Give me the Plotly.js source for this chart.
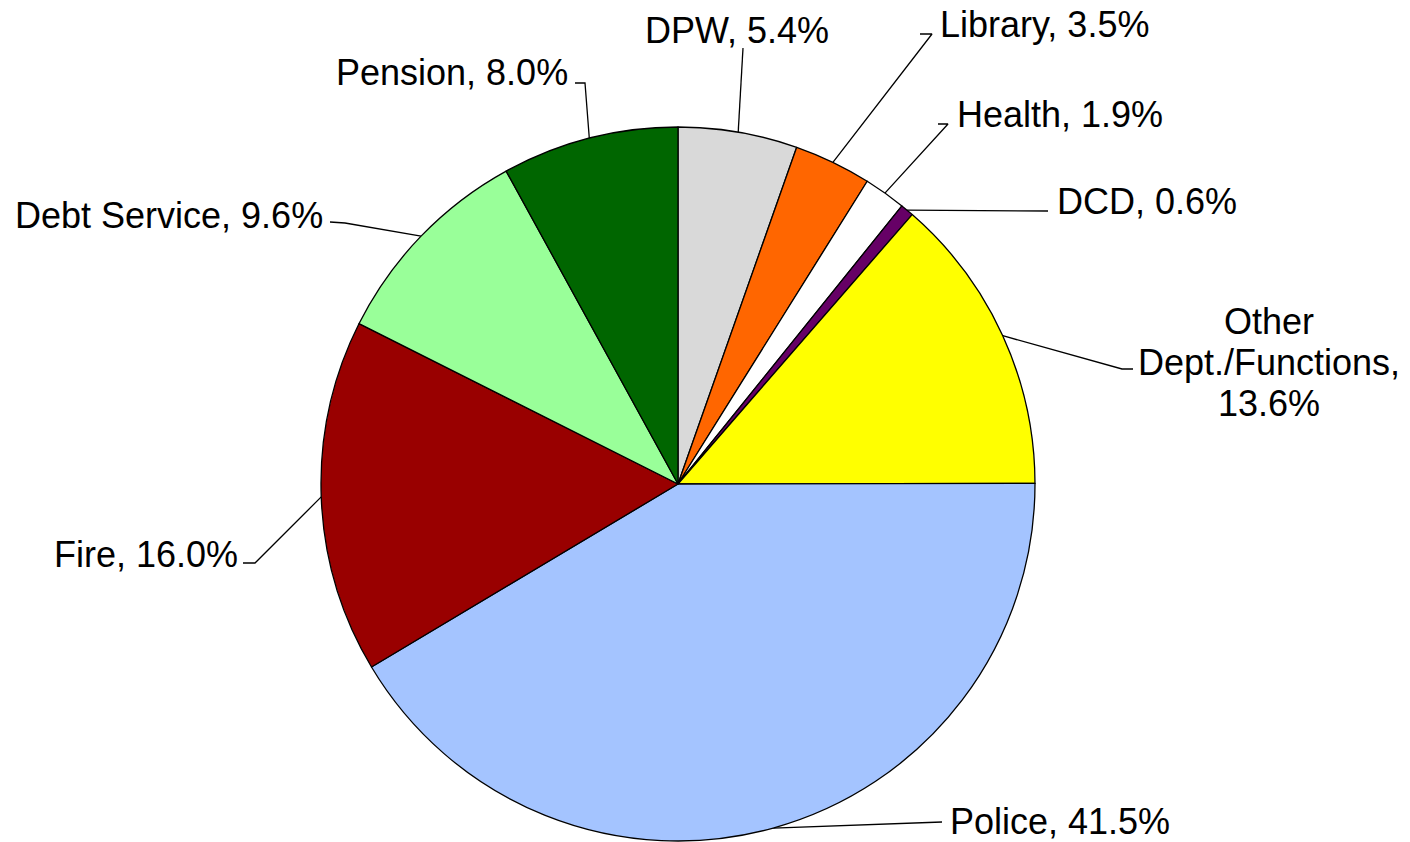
<!DOCTYPE html>
<html>
<head>
<meta charset="utf-8">
<script src="https://cdn.plot.ly/plotly-3.0.1.min.js"></script>
<style>html,body{margin:0;padding:0;background:#fff;}#chart{width:1410px;height:842px;}</style>
</head>
<body>
<div id="chart"></div>
<script>
// ---- data ----
const categories = ["DPW", "Library", "Health", "DCD", "Other Dept./Functions", "Police", "Fire", "Debt Service", "Pension"];
const labelTexts = ["DPW, 5.4%", "Library, 3.5%", "Health, 1.9%", "DCD, 0.6%", "Other<br>Dept./Functions,<br>13.6%", "Police, 41.5%", "Fire, 16.0%", "Debt Service, 9.6%", "Pension, 8.0%"];
const shares = [5.4, 3.5, 1.9, 0.6, 13.6, 41.5, 16.0, 9.6, 8.0];

// ---- styles / layout ----
const colors = ["#D9D9D9", "#FF6600", "#FFFFFF", "#660066", "#FFFF00", "#A4C4FF", "#990000", "#99FF99", "#006600"];
const W = 1410, H = 842;
const cx = 678, R = 357, cy = H - R - 1;
const fontSize = 36, lineGap = 41;
// label placement: [x, y (centre of the text block), xanchor]
const labelPos = [
  [737, 30, "center"], [938, 24, "left"], [955, 114, "left"], [1055, 201, "left"],
  [1269, 362, "center"], [948, 821, "left"], [240, 554, "right"], [325, 215, "right"], [570, 72, "right"]
];
// leader line attach points near label: [[x1,y1],[x2,y2]]
const leaderStart = [
  [[743, 48], [743, 48]], [[920, 34], [932, 34]], [[938, 124], [948, 124]], [[1048, 211], [1048, 211]],
  [[1133, 369], [1122, 369]], [[942, 822], [942, 822]], [[243, 563], [255, 563]], [[330, 222], [345, 223]], [[575, 83], [585, 83]]
];

const total = shares.reduce((a, b) => a + b, 0);
const lx = [], ly = [];
let cum = 0;
shares.forEach((v, i) => {
  const mid = (cum + v / 2) / total * 2 * Math.PI;
  cum += v;
  const ex = cx + R * Math.sin(mid), ey = cy - R * Math.cos(mid);
  const s = leaderStart[i];
  lx.push(s[0][0], s[1][0], ex, null);
  ly.push(s[0][1], s[1][1], ey, null);
});

const pie = {
  type: "pie",
  labels: categories,
  values: shares,
  sort: false,
  direction: "clockwise",
  rotation: 0,
  textinfo: "none",
  hoverinfo: "label+percent",
  showlegend: false,
  marker: {colors: colors, line: {color: "#000000", width: 1.3}},
  domain: {x: [(cx - R) / W, (cx + R) / W], y: [(H - cy - R) / H, (H - cy + R) / H]}
};
const leaders = {
  type: "scatter", mode: "lines", x: lx, y: ly,
  line: {color: "#000000", width: 1.3}, hoverinfo: "skip", showlegend: false
};

const annotations = [];
labelTexts.forEach((t, i) => {
  const lines = t.split("<br>");
  lines.forEach((ln, k) => {
    annotations.push({
      x: labelPos[i][0], y: labelPos[i][1] + (k - (lines.length - 1) / 2) * lineGap,
      xref: "x", yref: "y",
      text: ln, showarrow: false, xanchor: labelPos[i][2], yanchor: "middle", align: "center",
      font: {family: "Liberation Sans, Arial, sans-serif", size: fontSize, color: "#000000"}
    });
  });
});

const layout = {
  width: W, height: H,
  margin: {l: 0, r: 0, t: 0, b: 0},
  paper_bgcolor: "#ffffff", plot_bgcolor: "rgba(0,0,0,0)",
  xaxis: {range: [0, W], visible: false, fixedrange: true},
  yaxis: {range: [H, 0], visible: false, fixedrange: true},
  annotations: annotations,
  showlegend: false
};

Plotly.newPlot("chart", [pie, leaders], layout, {displayModeBar: false, staticPlot: true});
</script>
</body>
</html>
